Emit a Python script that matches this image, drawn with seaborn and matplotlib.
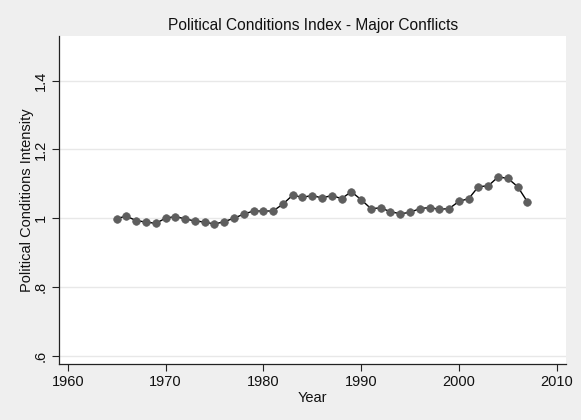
import matplotlib
matplotlib.use("Agg")
import matplotlib.pyplot as plt
import seaborn as sns
import pandas as pd

years = list(range(1965, 2008))
intensity = [
    0.999, 1.006, 0.993, 0.989, 0.985, 1.000, 1.005, 0.998, 0.992, 0.989,
    0.983, 0.990, 1.000, 1.012, 1.021, 1.021, 1.021, 1.041, 1.067, 1.061,
    1.066, 1.059, 1.066, 1.057, 1.077, 1.054, 1.028, 1.030, 1.019, 1.013,
    1.017, 1.028, 1.031, 1.026, 1.028, 1.049, 1.057, 1.092, 1.094, 1.120,
    1.116, 1.092, 1.048,
]
x_ticks = [1960, 1970, 1980, 1990, 2000, 2010]
y_ticks = [0.6, 0.8, 1.0, 1.2, 1.4]
y_tick_labels = [".6", ".8", "1", "1.2", "1.4"]

df = pd.DataFrame({"Year": years, "Intensity": intensity})

sns.set_theme(style="white")
plt.rcParams["font.family"] = ["Liberation Sans", "DejaVu Sans"]

bg = "#efefef"
fig = plt.figure(figsize=(5.81, 4.20), dpi=100, facecolor=bg)
ax = fig.add_axes([59 / 581, 1 - 364 / 420, (566.3 - 59) / 581, (364 - 36) / 420])
ax.set_facecolor("white")

sns.lineplot(data=df, x="Year", y="Intensity", color="black", linewidth=1.0, ax=ax, zorder=2)
sns.scatterplot(data=df, x="Year", y="Intensity", color="#5e5e5e", s=30,
                edgecolor="#5e5e5e", linewidth=0.5, ax=ax, zorder=3)

ax.set_xlim(1959.11, 2010.98)
ax.set_ylim(0.576, 1.53)
ax.set_xticks(x_ticks)
ax.set_xticklabels([str(t) for t in x_ticks], fontsize=10.5, color="#111111")
ax.set_yticks(y_ticks)
ax.set_yticklabels(y_tick_labels, fontsize=10.5, color="#111111", rotation=90, va="center")

ax.yaxis.grid(True, color="#e8e8e8", linewidth=1.0)
ax.xaxis.grid(False)
ax.set_axisbelow(True)

for side in ("top", "right"):
    ax.spines[side].set_visible(False)
for side in ("left", "bottom"):
    ax.spines[side].set_color("#222222")
    ax.spines[side].set_linewidth(0.9)

ax.tick_params(axis="both", direction="out", length=5, width=0.8, color="#222222",
               bottom=True, left=True, pad=3)

ax.set_xlabel("Year", fontsize=10.5, color="#111111", labelpad=1)
ax.set_ylabel("Political Conditions Intensity", fontsize=10.5, color="#111111", labelpad=0)
ax.set_title("Political Conditions Index - Major Conflicts", fontsize=11.2, color="#111111", pad=4)

fig.savefig("out.png", dpi=100, facecolor=bg)
